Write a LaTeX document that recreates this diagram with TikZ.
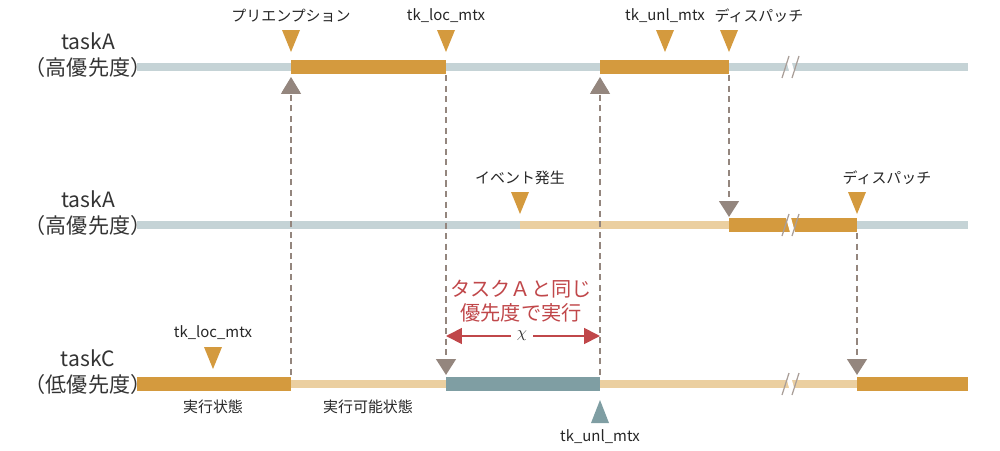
\documentclass[tikz,border=0pt]{standalone}
\usepackage{fontspec}
\setmainfont{Noto Sans CJK JP}
\usetikzlibrary{arrows.meta, positioning}
\definecolor{lineg}{HTML}{C5D3D6}
\definecolor{runo}{HTML}{D49A3E}
\definecolor{waitb}{HTML}{EBCFA0}
\definecolor{tealb}{HTML}{7F9EA3}
\definecolor{arrg}{HTML}{94867E}
\definecolor{redt}{HTML}{C0474A}

\begin{document}
\begin{tikzpicture}[
      x=0.02cm, y=-0.02cm,
      thinline/.style={line width=0.16cm},
      bar/.style={line width=0.28cm},
      lbl/.style={font=\fontsize{8.5}{10}\selectfont, text=black!85},
      tasklbl/.style={font=\fontsize{12}{15}\selectfont, text=black!80, align=center},
      dep/.style={draw=arrg, line width=1.6pt, dash pattern=on 3.5pt off 2.5pt,
                  -{Triangle[width=11pt,length=9pt]}},
    ]
    \useasboundingbox (0,0) rectangle (1000,450);

    % ---- task labels ----
    \node[tasklbl] (ta1) at (88,55) {taskA\\（高優先度）};
    \node[tasklbl] (ta2) at (88,213) {taskA\\（高優先度）};
    \node[tasklbl] (tc) at (88,372) {taskC\\（低優先度）};

    % ---- row 1 ----
    \draw[thinline, lineg] (137,67) -- (968,67);
    \draw[bar, runo] (291,67) -- (446,67);
    \draw[bar, runo] (600,67) -- (729,67);
    % ---- row 2 ----
    \draw[thinline, lineg] (137,225) -- (968,225);
    \draw[thinline, waitb] (520,225) -- (729,225);
    \draw[bar, runo] (729,225) -- (857,225);
    % ---- row 3 ----
    \draw[thinline, waitb] (137,384) -- (968,384);
    \draw[bar, runo] (137,384) -- (291,384);
    \draw[bar, tealb] (446,384) -- (600,384);
    \draw[bar, runo] (857,384) -- (968,384);

    % break marks
    \foreach \yy in {67,225,384} {
      \fill[white] (785,\yy-11) -- (790,\yy-11) -- (796,\yy+11) -- (791,\yy+11) -- cycle;
      \draw[arrg!80, line width=0.7pt] (782,\yy+11) -- (789,\yy-11)
                                       (792,\yy+11) -- (799,\yy-11);
    }

    % down markers with labels
    \foreach \xx/\yy/\txt/\lx in {291/30/プリエンプション/291, 446/30/tk\_loc\_mtx/446,
        665/30/tk\_unl\_mtx/665, 729/30/ディスパッチ/759, 520/192/イベント発生/520,
        857/192/ディスパッチ/887, 213/347/tk\_loc\_mtx/213} {
      \fill[runo] (\xx-9,\yy) -- (\xx+9,\yy) -- (\xx,\yy+22) -- cycle;
      \node[lbl] at (\lx,\yy-14) {\txt};
    }

    % up markers
    \fill[arrg] (282,92) -- (300,92) -- (291,77) -- cycle;
    \fill[arrg] (591,92) -- (609,92) -- (600,77) -- cycle;
    \fill[tealb] (591,423) -- (609,423) -- (600,400) -- cycle;
    \node[lbl] (unl) at (600,437) {tk\_unl\_mtx};

    % state labels
    \node[lbl] (run) at (213,407) {実行状態};
    \node[lbl] (rdy) at (368,407) {実行可能状態};

    % dependency arrows
    \coordinate (c1a) at (291,375); \coordinate (c1b) at (291,78);
    \coordinate (c2a) at (446,75);  \coordinate (c2b) at (446,375);
    \coordinate (c3a) at (600,375); \coordinate (c3b) at (600,78);
    \coordinate (c4a) at (729,75);  \coordinate (c4b) at (729,217);
    \coordinate (c5a) at (857,233); \coordinate (c5b) at (857,375);
    \foreach \s in {1,...,5} { \draw[dep] (c\s a) -- (c\s b); }

    % inherited priority
    \node[font=\fontsize{11.5}{14}\selectfont, text=redt, align=center] (inh) at (521,301)
      {タスクＡと同じ\\優先度で実行};
    \node[font=\small, text=black!80] (chi) at (522,336) {$\chi$};
    \coordinate (chl) at (446,336); \coordinate (chr) at (600,336);
    \draw[redt, line width=1pt, -{Triangle[width=9pt,length=9pt]}] (chi) -- (chl);
    \draw[redt, line width=1pt, -{Triangle[width=9pt,length=9pt]}] (chi) -- (chr);

  \end{tikzpicture}
\end{document}
